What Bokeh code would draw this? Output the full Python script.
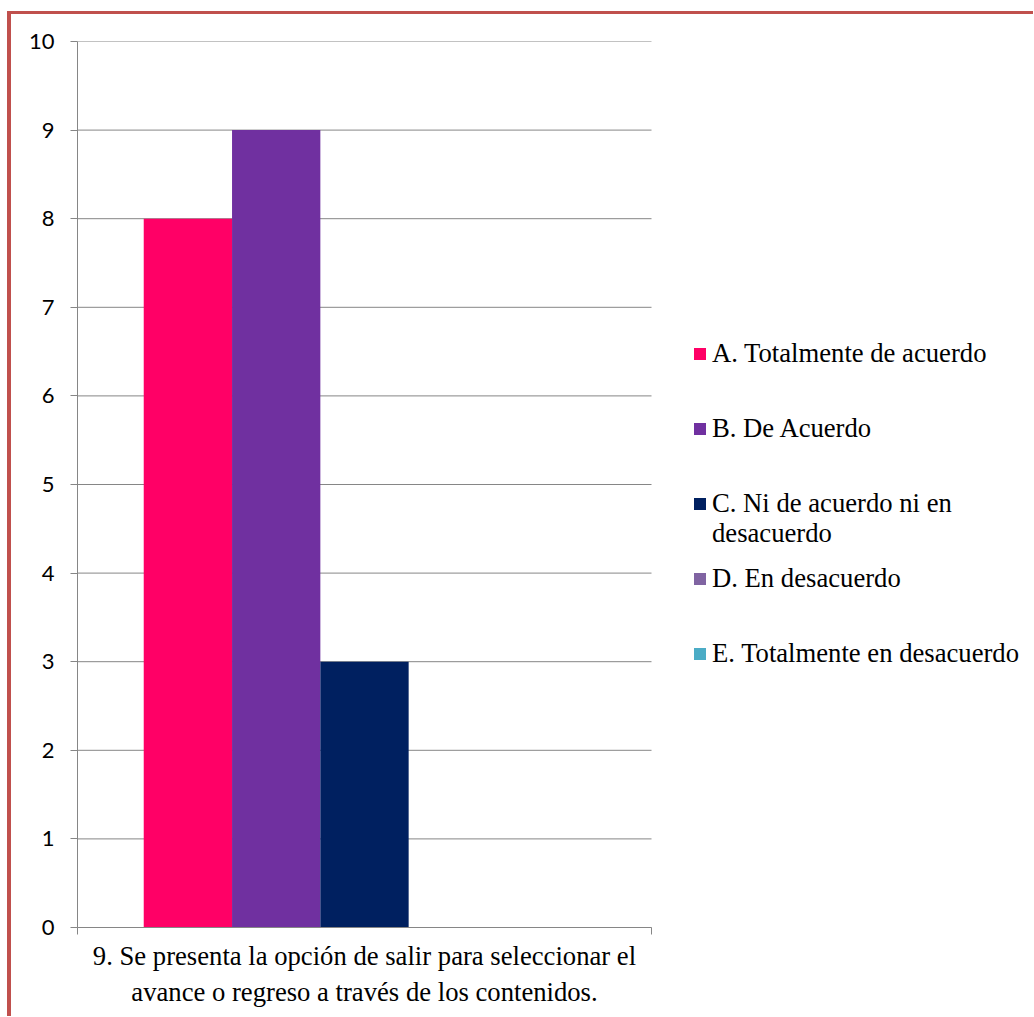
import textwrap
from bokeh.plotting import figure
from bokeh.models import (Range1d, FixedTicker, Legend, LegendItem,
                          ColumnDataSource)
from bokeh.transform import dodge
from bokeh.layouts import column
from bokeh.embed import file_html
from bokeh.resources import INLINE

# ---- data ----
category_lines = ["9. Se presenta la opción de salir para seleccionar el",
                  "avance o regreso a través de los contenidos."]
categories = ["\n".join(category_lines)]
series = ["A. Totalmente de acuerdo", "B. De Acuerdo",
          "C. Ni de acuerdo ni en desacuerdo", "D. En desacuerdo",
          "E. Totalmente en desacuerdo"]
values = [8, 9, 3, 0, 0]
colors = ["#FF0066", "#7030A0", "#002060", "#8064A2", "#4BACC6"]
y_ticks = [0, 1, 2, 3, 4, 5, 6, 7, 8, 9, 10]

GRAY = "#868686"
SERIF = "Liberation Serif"

n_cat = len(categories)
cat_centers = [k + 0.5 for k in range(n_cat)]
cat_bounds = [k for k in range(n_cat + 1)]

PLOT_W = 574          # pixel width of the category area
FRAME_W = 956         # frame also covers the legend area on the right
p = figure(x_range=Range1d(0, n_cat * FRAME_W / PLOT_W), y_range=Range1d(0, 10),
           frame_width=FRAME_W, frame_height=886,
           min_border_left=66, min_border_top=27,
           min_border_right=0, min_border_bottom=89,
           output_backend="svg", toolbar_location=None,
           background_fill_color="white", border_fill_color="white")
p.outline_line_color = None

# horizontal grid lines across the category area only
p.segment(x0=cat_bounds[0], x1=cat_bounds[-1], y0=y_ticks, y1=y_ticks,
          line_color=GRAY, line_width=1)
p.ygrid.grid_line_color = None
p.xgrid.grid_line_color = None

w = 1 / (len(series) + 1.5)
items = []
wrapped = []
for i, (name, val, col) in enumerate(zip(series, values, colors)):
    src = ColumnDataSource(dict(x=cat_centers, top=[val]))
    r = p.vbar(x=dodge("x", (i - (len(series) - 1) / 2) * w), top="top", bottom=0,
               width=w, fill_color=col, line_color=None, source=src)
    lines = textwrap.wrap(name, 27)
    wrapped.append(lines)
    items.append(LegendItem(label=lines[0], renderers=[r]))

# y axis
ya = p.yaxis[0]
ya.ticker = FixedTicker(ticks=y_ticks)
ya.major_tick_out = 7
ya.major_tick_in = 0
ya.minor_tick_out = 0
ya.minor_tick_in = 0
ya.axis_line_color = GRAY
ya.major_tick_line_color = GRAY
ya.major_label_text_font = "Lato"
ya.major_label_text_font_size = "22px"
ya.major_label_text_color = "black"
ya.major_label_standoff = 16

# x axis: category label at the centre, tick marks at category boundaries
xa = p.xaxis[0]
xa.bounds = (cat_bounds[0], cat_bounds[-1])
xa.ticker = FixedTicker(ticks=cat_centers, minor_ticks=cat_bounds)
xa.major_label_overrides = {c: lab for c, lab in zip(cat_centers, categories)}
xa.major_tick_out = 0
xa.major_tick_in = 0
xa.minor_tick_out = 7
xa.minor_tick_in = 0
xa.axis_line_color = GRAY
xa.minor_tick_line_color = GRAY
xa.major_tick_line_color = None
xa.major_label_text_font = SERIF
xa.major_label_text_font_size = "20pt"
xa.major_label_text_color = "black"
xa.major_label_standoff = 6

legend_style = dict(glyph_width=15, glyph_height=15, label_standoff=5,
                    label_text_font=SERIF, label_text_font_size="20pt",
                    label_text_color="black", label_height=30,
                    padding=0, margin=0, border_line_color=None,
                    background_fill_alpha=0)
legend = Legend(items=items, location=(PLOT_W + 41, 258), spacing=44, **legend_style)
p.add_layout(legend, "center")

# continuation line of the wrapped legend entry (glyph left invisible)
ghost = p.vbar(x=[], top=[], width=w, fill_color=None, line_color=None)
extra_items = [LegendItem(label=l, renderers=[ghost])
               for lines in wrapped for l in lines[1:]]
legend2 = Legend(items=extra_items, location=(PLOT_W + 41, 378), spacing=0,
                 **legend_style)
p.add_layout(legend2, "center")

layout = column(p, styles={"border-top": "3px solid #C0504D",
                           "border-left": "4px solid #C0504D",
                           "margin-left": "7px", "margin-top": "11px"})

open("out.html", "w").write(file_html(layout, INLINE))
